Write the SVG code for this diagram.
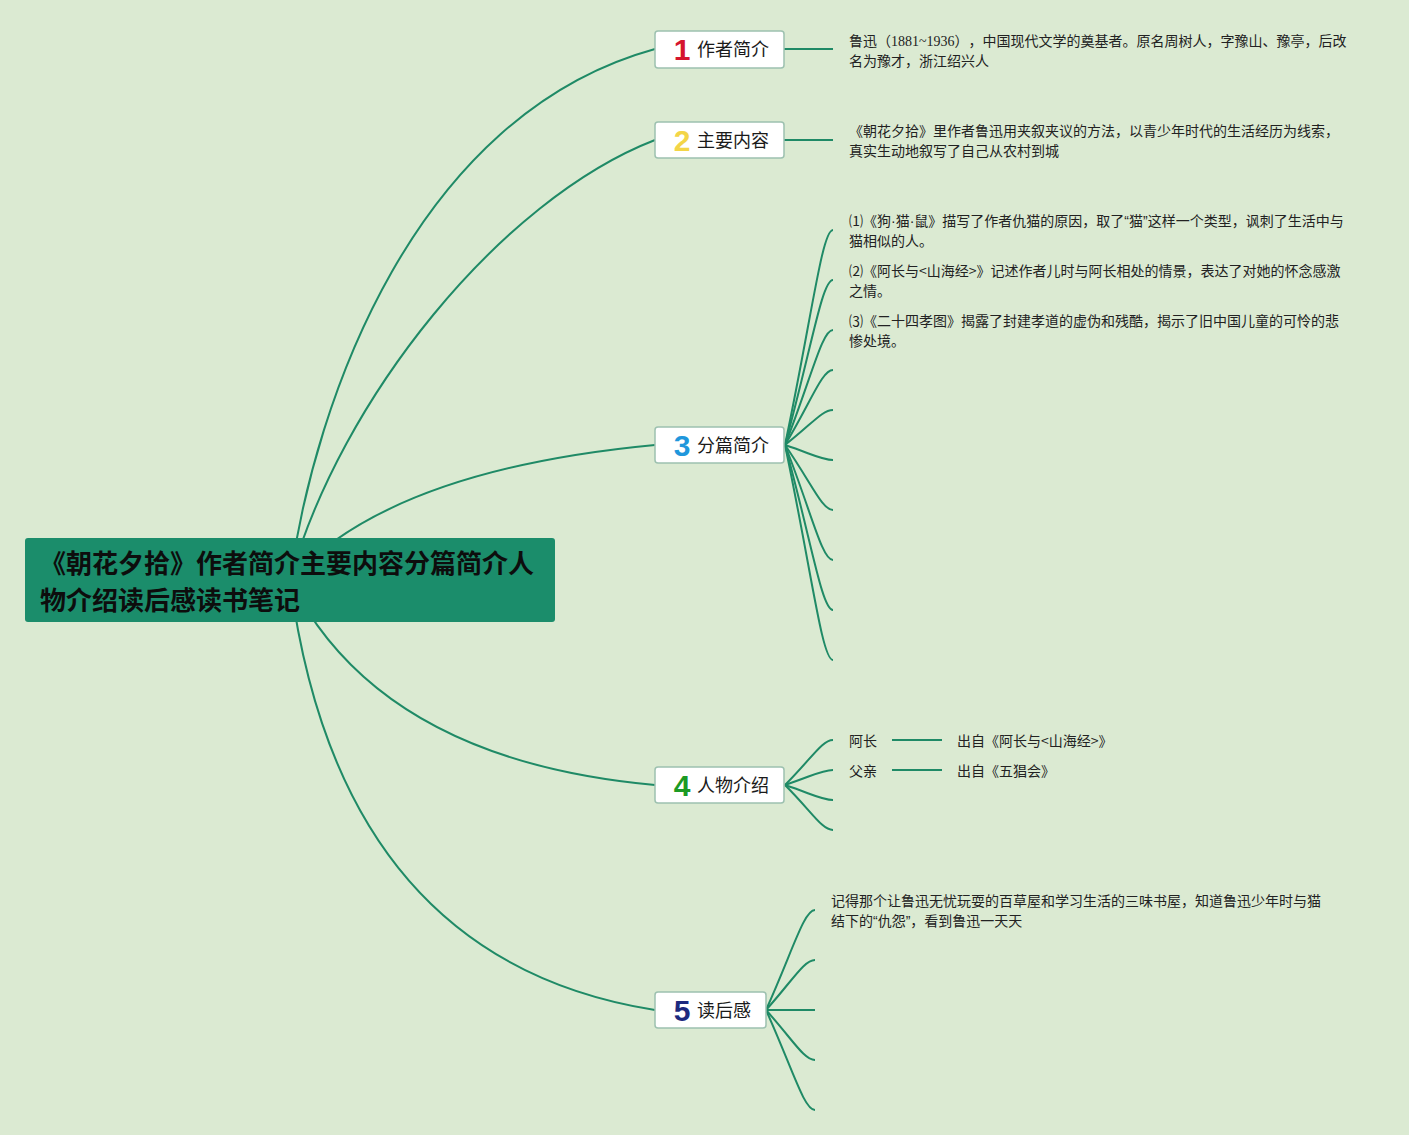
<svg xmlns="http://www.w3.org/2000/svg" width="1409" height="1135" viewBox="0 0 1409 1135">
<style>
.bg{fill:#dbead2}
.conn path,.conn line{fill:none;stroke:#1f8a66;stroke-width:2}
.box{fill:#ffffff;stroke:#9dc1b0;stroke-width:1.5}
.lbl{font-family:"Noto Sans CJK SC","Noto Sans",sans-serif;font-size:18px;fill:#1a1a1a}
.num{font-family:"Liberation Sans","DejaVu Sans",sans-serif;font-size:30px;font-weight:700;text-anchor:middle}
.txt{font-family:"Noto Sans CJK SC","Noto Sans",sans-serif;font-size:14px;fill:#222;text-spacing-trim:space-all}
.ser{font-family:"Liberation Serif","Noto Sans CJK SC",serif}
.lat{font-family:"Liberation Sans","Noto Sans",sans-serif}
.title{font-family:"Noto Sans CJK SC","Noto Sans",sans-serif;font-size:26px;font-weight:700;fill:#0d0d0d}
</style>
<rect class="bg" x="0" y="0" width="1409" height="1135"/>
<g id="connectors" class="conn">
<path d="M290,580 C315,400 415,115 655,49"/>
<path d="M290,580 C340,400 500,200 655,140"/>
<path d="M290,580 Q390,470 655,445"/>
<path d="M290,580 Q380,760 655,785"/>
<path d="M290,580 Q340,960 655,1010"/>
<line x1="784" y1="49" x2="833" y2="49"/>
<line x1="784" y1="140" x2="833" y2="140"/>
<path d="M785,445 C812,316 822,230 833,230"/>
<path d="M785,445 C812,346 822,280 833,280"/>
<path d="M785,445 C812,376 822,330 833,330"/>
<path d="M785,445 C812,400 822,370 833,370"/>
<path d="M785,445 C812,424 822,410 833,410"/>
<path d="M785,445 C812,454 822,460 833,460"/>
<path d="M785,445 C812,484 822,510 833,510"/>
<path d="M785,445 C812,514 822,560 833,560"/>
<path d="M785,445 C812,544 822,610 833,610"/>
<path d="M785,445 C812,574 822,660 833,660"/>
<path d="M785,785 C812,758 822,740 833,740"/>
<path d="M785,785 C812,776 822,770 833,770"/>
<path d="M785,785 C812,794 822,800 833,800"/>
<path d="M785,785 C812,812 822,830 833,830"/>
<line x1="892" y1="740" x2="942" y2="740"/>
<line x1="892" y1="770" x2="942" y2="770"/>
<path d="M766,1010 C793,950 804,910 815,910"/>
<path d="M766,1010 C793,980 804,960 815,960"/>
<path d="M766,1010 L815,1010"/>
<path d="M766,1010 C793,1040 804,1060 815,1060"/>
<path d="M766,1010 C793,1070 804,1110 815,1110"/>
</g>
<g id="root">
<rect x="25" y="538" width="530" height="84" rx="3" fill="#1b8d6b"/>
<text class="title" x="40" y="573">《朝花夕拾》作者简介主要内容分篇简介人</text>
<text class="title" x="40" y="610">物介绍读后感读书笔记</text>
</g>
<g id="node1">
<rect class="box" x="655" y="31" width="129" height="37" rx="3"/>
<text class="num" x="682" y="60" fill="#d5152e">1</text>
<text class="lbl" x="697" y="56">作者简介</text>
</g>
<g id="node1-text">
<text class="txt" x="849" y="46">鲁迅（<tspan class="ser">1881~1936</tspan>），中国现代文学的奠基者。原名周树人，字豫山、豫亭，后改</text>
<text class="txt" x="849" y="66">名为豫才，浙江绍兴人</text>
</g>
<g id="node2">
<rect class="box" x="655" y="122" width="129" height="36" rx="3"/>
<text class="num" x="682" y="151" fill="#f3d548">2</text>
<text class="lbl" x="697" y="147">主要内容</text>
</g>
<g id="node2-text">
<text class="txt" x="849" y="136">《朝花夕拾》里作者鲁迅用夹叙夹议的方法，以青少年时代的生活经历为线索，</text>
<text class="txt" x="849" y="156">真实生动地叙写了自己从农村到城</text>
</g>
<g id="node3">
<rect class="box" x="655" y="427" width="129" height="36" rx="3"/>
<text class="num" x="682" y="456" fill="#1f97dc">3</text>
<text class="lbl" x="697" y="452">分篇简介</text>
</g>
<g id="node3-item1">
<text class="txt" x="849" y="226">⑴《狗<tspan class="lat">·</tspan>猫<tspan class="lat">·</tspan>鼠》描写了作者仇猫的原因，取了<tspan class="lat">“</tspan>猫<tspan class="lat">”</tspan>这样一个类型，讽刺了生活中与</text>
<text class="txt" x="849" y="246">猫相似的人。</text>
</g>
<g id="node3-item2">
<text class="txt" x="849" y="276">⑵《阿长与&lt;山海经&gt;》记述作者儿时与阿长相处的情景，表达了对她的怀念感激</text>
<text class="txt" x="849" y="296">之情。</text>
</g>
<g id="node3-item3">
<text class="txt" x="849" y="326">⑶《二十四孝图》揭露了封建孝道的虚伪和残酷，揭示了旧中国儿童的可怜的悲</text>
<text class="txt" x="849" y="346">惨处境。</text>
</g>
<g id="node4">
<rect class="box" x="655" y="767" width="129" height="36" rx="3"/>
<text class="num" x="682" y="796" fill="#1c9a24">4</text>
<text class="lbl" x="697" y="792">人物介绍</text>
</g>
<g id="node4-a">
<text class="txt" x="849" y="746">阿长</text>
<text class="txt" x="957" y="746">出自《阿长与&lt;山海经&gt;》</text>
</g>
<g id="node4-b">
<text class="txt" x="849" y="776">父亲</text>
<text class="txt" x="957" y="776">出自《五猖会》</text>
</g>
<g id="node5">
<rect class="box" x="655" y="992" width="111" height="36" rx="3"/>
<text class="num" x="682" y="1021" fill="#1c2a7e">5</text>
<text class="lbl" x="697" y="1017">读后感</text>
</g>
<g id="node5-text">
<text class="txt" x="831" y="906">记得那个让鲁迅无忧玩耍的百草屋和学习生活的三味书屋，知道鲁迅少年时与猫</text>
<text class="txt" x="831" y="926">结下的<tspan class="lat">“</tspan>仇怨<tspan class="lat">”</tspan>，看到鲁迅一天天</text>
</g>
</svg>
